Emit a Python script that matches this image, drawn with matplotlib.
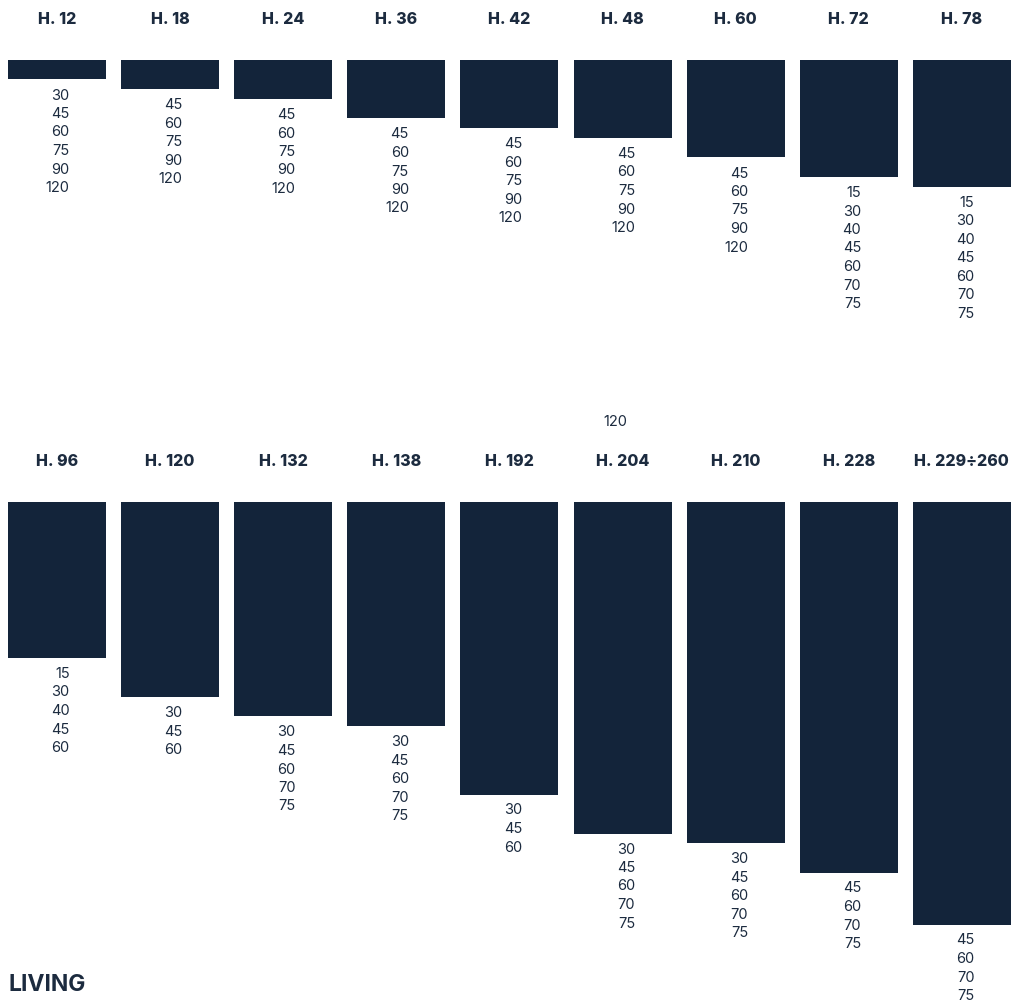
import matplotlib.pyplot as plt

# intestazioni e altezze (cm)
etichette_1 = ['H. 12', 'H. 18', 'H. 24', 'H. 36', 'H. 42', 'H. 48', 'H. 60', 'H. 72', 'H. 78']
altezze_1 = [12, 18, 24, 36, 42, 48, 60, 72, 78]
misure_1 = [
    [30, 45, 60, 75, 90, 120],
    [45, 60, 75, 90, 120],
    [45, 60, 75, 90, 120],
    [45, 60, 75, 90, 120],
    [45, 60, 75, 90, 120],
    [45, 60, 75, 90, 120],
    [45, 60, 75, 90, 120],
    [15, 30, 40, 45, 60, 70, 75],
    [15, 30, 40, 45, 60, 70, 75],
]

etichette_2 = ['H. 96', 'H. 120', 'H. 132', 'H. 138', 'H. 192', 'H. 204', 'H. 210', 'H. 228', 'H. 229÷260']
altezze_2 = [96, 120, 132, 138, 180, 204, 210, 228, 260]
misure_2 = [
    [15, 30, 40, 45, 60],
    [30, 45, 60],
    [30, 45, 60, 70, 75],
    [30, 45, 60, 70, 75],
    [30, 45, 60],
    [30, 45, 60, 70, 75],
    [30, 45, 60, 70, 75],
    [45, 60, 70, 75],
    [45, 60, 70, 75],
]

titolo = 'LIVING'
nota_extra = '120'  # testo isolato tra le due file

BLU = '#13243a'
TESTO = '#1c2b3f'
plt.rcParams['font.family'] = ['Inter', 'DejaVu Sans']

W, H = 1013, 1005
fig = plt.figure(figsize=(W / 100, H / 100), dpi=100)

PX_CM = 1.625          # pixel per cm
PASSO = 113.1          # distanza fra colonne in pixel
X0 = 57                # centro della prima colonna


def disegna_fila(top_px, bottom_px, barre_top_px, header_px, etichette, altezze, misure):
    ax = fig.add_axes([0, 1 - bottom_px / H, 1, (bottom_px - top_px) / H])
    ax.set_xlim(-X0 / PASSO, (W - X0) / PASSO)
    ymin = -(barre_top_px - top_px) / PX_CM
    ymax = (bottom_px - barre_top_px) / PX_CM
    ax.set_ylim(ymax, ymin)
    ax.axis('off')

    x = list(range(len(etichette)))
    ax.bar(x, altezze, width=98 / PASSO, bottom=0, color=BLU, align='center')

    y_head = -(barre_top_px - header_px) / PX_CM
    for i, et in enumerate(etichette):
        ax.text(i, y_head, et, ha='center', va='center', fontsize=11.5,
                fontweight='heavy', color=TESTO)
        for k, m in enumerate(misure[i]):
            ax.annotate(str(m), xy=(i, altezze[i]), xytext=(12.5, -16 - k * 18.5),
                        textcoords='offset pixels', ha='right', va='center',
                        fontsize=10.5, color=TESTO)
    return ax


ax1 = disegna_fila(0, 440, 60, 19.5, etichette_1, altezze_1, misure_1)
ax2 = disegna_fila(440, 1005, 502, 461, etichette_2, altezze_2, misure_2)

fig.text(615 / W, 1 - 422 / H, nota_extra, ha='center', va='center', fontsize=10.5, color=TESTO)
fig.text(8 / W, 1 - 985 / H, titolo, ha='left', va='center', fontsize=16.5,
         fontweight='bold', color=TESTO)

fig.savefig('out.png', dpi=100, facecolor='white')
